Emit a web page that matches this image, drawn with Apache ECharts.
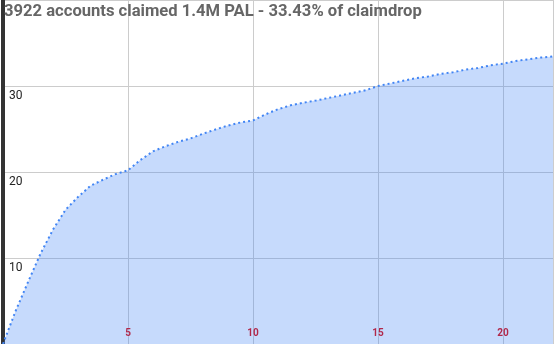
<!DOCTYPE html>
<html>
<head>
<meta charset="utf-8">
<title>claimdrop</title>
<script src="https://cdn.jsdelivr.net/npm/echarts@6/dist/echarts.min.js"></script>
<style>
html,body{margin:0;padding:0;background:#fff;}
#chart1{width:556px;height:344px;}
</style>
</head>
<body>
<div id="chart1"></div>
<script>
// 天数（x）和累计百分比（y）
var days=[0,0.5,1,1.5,2,2.5,3,3.5,4,4.5,5,5.5,6,6.5,7,7.5,8,8.5,9,9.5,10,10.5,11,11.5,12,12.5,13,13.5,14,14.5,15,15.5,16,16.5,17,17.5,18,18.5,19,19.5,20,20.5,21,21.5,22];
var claimed=[0,3.8,7.2,10.5,13.3,15.6,17.1,18.4,19.1,19.75,20.2,21.4,22.4,23.0,23.5,23.9,24.45,24.95,25.4,25.75,26.0,26.7,27.3,27.75,28.05,28.3,28.6,28.9,29.2,29.5,30.0,30.3,30.6,30.9,31.1,31.4,31.6,31.9,32.1,32.4,32.6,32.9,33.1,33.3,33.43];
var xTicks=[5,10,15,20];
var titleText='3922 accounts claimed 1.4M PAL - 33.43% of claimdrop';

var points=[];
for(var i=0;i<days.length;i++){
	points.push([days[i],claimed[i]]);
}

var myChart1=echarts.init(document.getElementById('chart1'));
var option1={
	animation:false,
	title:{
		text:titleText,
		left:4,
		top:3,
		padding:0,
		z:10,
		textStyle:{
			fontFamily:'Roboto',
			fontSize:16.6,
			fontWeight:'bold',
			color:'#666'
		}
	},
	grid:{left:0,right:0,top:0,bottom:0},
	xAxis:{
		type:'value',
		min:0,
		max:22,
		interval:5,
		axisLine:{show:false},
		axisTick:{show:false},
		splitLine:{show:true,lineStyle:{color:'#ccc',width:1}},
		axisLabel:{
			inside:true,
			margin:6,
			fontFamily:'Roboto',
			fontSize:10,
			fontWeight:'bold',
			color:'#e00000',
			textShadowColor:'#fff',
			textShadowBlur:3,
			formatter:function(v){
				return xTicks.indexOf(v)>=0?String(v):'';
			}
		}
	},
	yAxis:{
		type:'value',
		min:0,
		max:40,
		interval:10,
		axisLine:{show:true,lineStyle:{color:'#333',width:4}},
		axisTick:{show:false},
		splitLine:{show:true,lineStyle:{color:'#ccc',width:1}},
		axisLabel:{
			inside:true,
			margin:6,
			fontFamily:'Roboto',
			fontSize:12,
			color:'#222',
			verticalAlign:'top',
			padding:[4,0,0,0],
			formatter:function(v){
				return (v>0&&v<40)?String(v):'';
			}
		}
	},
	series:[{
		type:'line',
		data:points,
		showSymbol:false,
		symbol:'none',
		lineStyle:{color:'#4285f4',width:2,type:[2,3]},
		areaStyle:{color:'#4285f4',opacity:0.3}
	}]
};
myChart1.setOption(option1);
</script>
</body>
</html>
